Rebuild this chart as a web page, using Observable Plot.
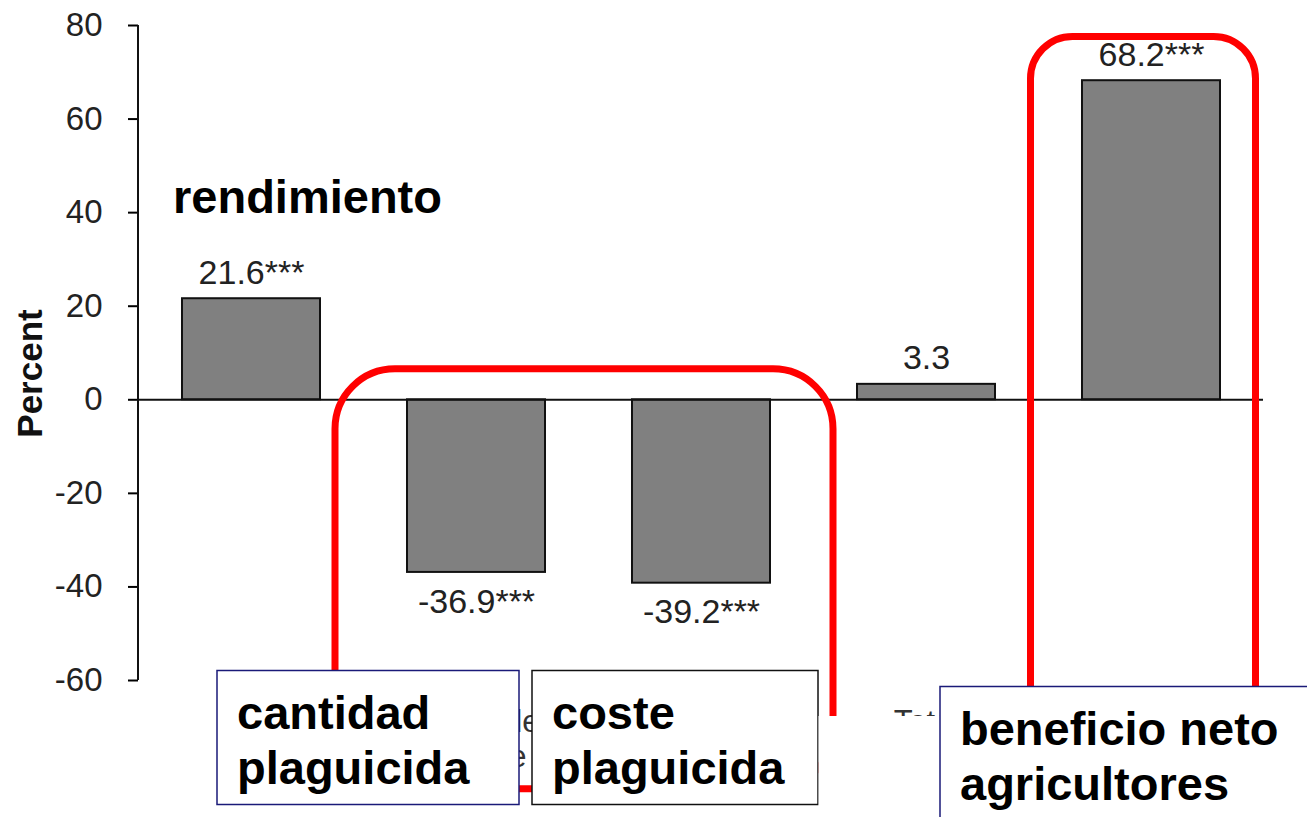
<!DOCTYPE html>
<html><head><meta charset="utf-8">
<script src="https://cdn.jsdelivr.net/npm/d3@7"></script>
<script src="https://cdn.jsdelivr.net/npm/@observablehq/plot@0.6"></script>
<style>
body{margin:0;background:#fff;}
svg{display:block;}
</style>
</head><body><div id="chart"></div>
<script>
// ---- data ----
const categories = ["Yield", "Pesticide\nvolume", "Pesticide\ncost", "Total\ncost", "Net\nrevenue"];
const values = [21.6, -36.9, -39.2, 3.3, 68.2];
const valueLabels = ["21.6***", "-36.9***", "-39.2***", "3.3", "68.2***"];
const yTicks = [-60, -40, -20, 0, 20, 40, 60, 80];
const yLabel = "Percent";
const yieldNote = "rendimiento";
const boxTexts = [["cantidad", "plaguicida"], ["coste", "plaguicida"], ["beneficio neto", "agricultores"]];

const FONT = '"Liberation Sans", Arial, Helvetica, sans-serif';
const data = categories.map((c, i) => ({category: c, value: values[i], label: valueLabels[i]}));

const plot = Plot.plot({
  width: 1307, height: 817,
  marginTop: 25, marginBottom: 137, marginLeft: 138, marginRight: 44,
  style: {fontFamily: FONT, fontSize: "32px", color: "#222", background: "#fff", overflow: "visible"},
  x: {domain: categories, paddingInner: 0.387, paddingOuter: 0.193, label: null},
  y: {domain: [-60, 80], label: null},
  marks: [
    Plot.axisY({ticks: yTicks, tickFormat: d => String(d), tickSize: 10, tickPadding: 26, label: null, fontSize: 33, stroke: "#000", strokeWidth: 2, fill: "#222"}),
    Plot.axisX({tickSize: 0, tickPadding: 26, label: null, fontSize: 31, fill: "#333", lineHeight: 1.15}),
    Plot.barY(data, {x: "category", y: "value", fill: "#808080", stroke: "#111", strokeWidth: 2}),
    Plot.ruleY([0], {stroke: "#111", strokeWidth: 2}),
    Plot.text(data.filter(d => d.value >= 0), {x: "category", y: "value", text: "label", dy: -15, lineAnchor: "bottom", fontSize: 34, fill: "#222"}),
    Plot.text(data.filter(d => d.value < 0), {x: "category", y: "value", text: "label", dy: 16, lineAnchor: "top", fontSize: 34, fill: "#222"})
  ]
});
document.getElementById("chart").appendChild(plot);

// ---- annotations, positioned from the plot's own scales ----
const xs = plot.scale("x"), ys = plot.scale("y");
const bw = xs.bandwidth;
const bx = c => xs.apply(c);
const by = v => ys.apply(v);
const svg = d3.select(plot);
const g = svg.append("g").attr("text-anchor", "start");

// y axis line
g.append("line")
  .attr("x1", 138).attr("x2", 138)
  .attr("y1", by(80)).attr("y2", by(-60))
  .attr("stroke", "#111").attr("stroke-width", 2);

// y label
g.append("text")
  .attr("transform", `translate(42,${(by(80) + by(-60)) / 2 + 21}) rotate(-90)`)
  .attr("text-anchor", "middle")
  .attr("font-family", FONT).attr("font-weight", "bold").attr("font-size", 35)
  .attr("fill", "#111").text(yLabel);

// "rendimiento"
g.append("text")
  .attr("text-anchor", "start")
  .attr("x", bx(categories[0]) - 9).attr("y", by(40) + 1)
  .attr("font-family", FONT).attr("font-weight", "bold").attr("font-size", 47)
  .attr("fill", "#000").text(yieldNote);

// red rounded rectangles
const r1x1 = bx(categories[1]) - 72, r1x2 = bx(categories[2]) + bw + 63;
g.append("rect")
  .attr("x", r1x1).attr("y", by(0) - 30.5)
  .attr("width", r1x2 - r1x1).attr("height", 420)
  .attr("rx", 60).attr("ry", 60)
  .attr("fill", "none").attr("stroke", "#ff0000").attr("stroke-width", 7);
const r2x1 = bx(categories[4]) - 51.5, r2x2 = bx(categories[4]) + bw + 35.5;
g.append("rect")
  .attr("x", r2x1).attr("y", by(80) + 11.5)
  .attr("width", r2x2 - r2x1).attr("height", 780)
  .attr("rx", 42).attr("ry", 42)
  .attr("fill", "none").attr("stroke", "#ff0000").attr("stroke-width", 7);

// label boxes
function box(x, y, w, h, stroke, lines) {
  g.append("rect").attr("x", x).attr("y", y).attr("width", w).attr("height", h)
    .attr("fill", "#fff").attr("stroke", stroke).attr("stroke-width", 1.5);
  const t = g.append("text").attr("text-anchor", "start").attr("font-family", FONT).attr("font-weight", "bold")
    .attr("font-size", 47).attr("fill", "#000");
  lines.forEach((s, i) => t.append("tspan").attr("x", x + 20).attr("y", y + 58 + i * 55).text(s));
}
const p2 = bx(categories[1]);
box(p2 - 190, 670.5, 302, 134, "#1a1a78", boxTexts[0]);
box(p2 + 125, 670.5, 286, 134, "#111", boxTexts[1]);
// white patch hiding right edge of second box, red line and lower axis labels
g.append("rect").attr("x", p2 + 411.5).attr("y", 716).attr("width", 135).attr("height", 110).attr("fill", "#fff");
box(bx(categories[4]) - 142, 686.5, 400, 160, "#1a1a78", boxTexts[2]);
</script>
</body></html>
